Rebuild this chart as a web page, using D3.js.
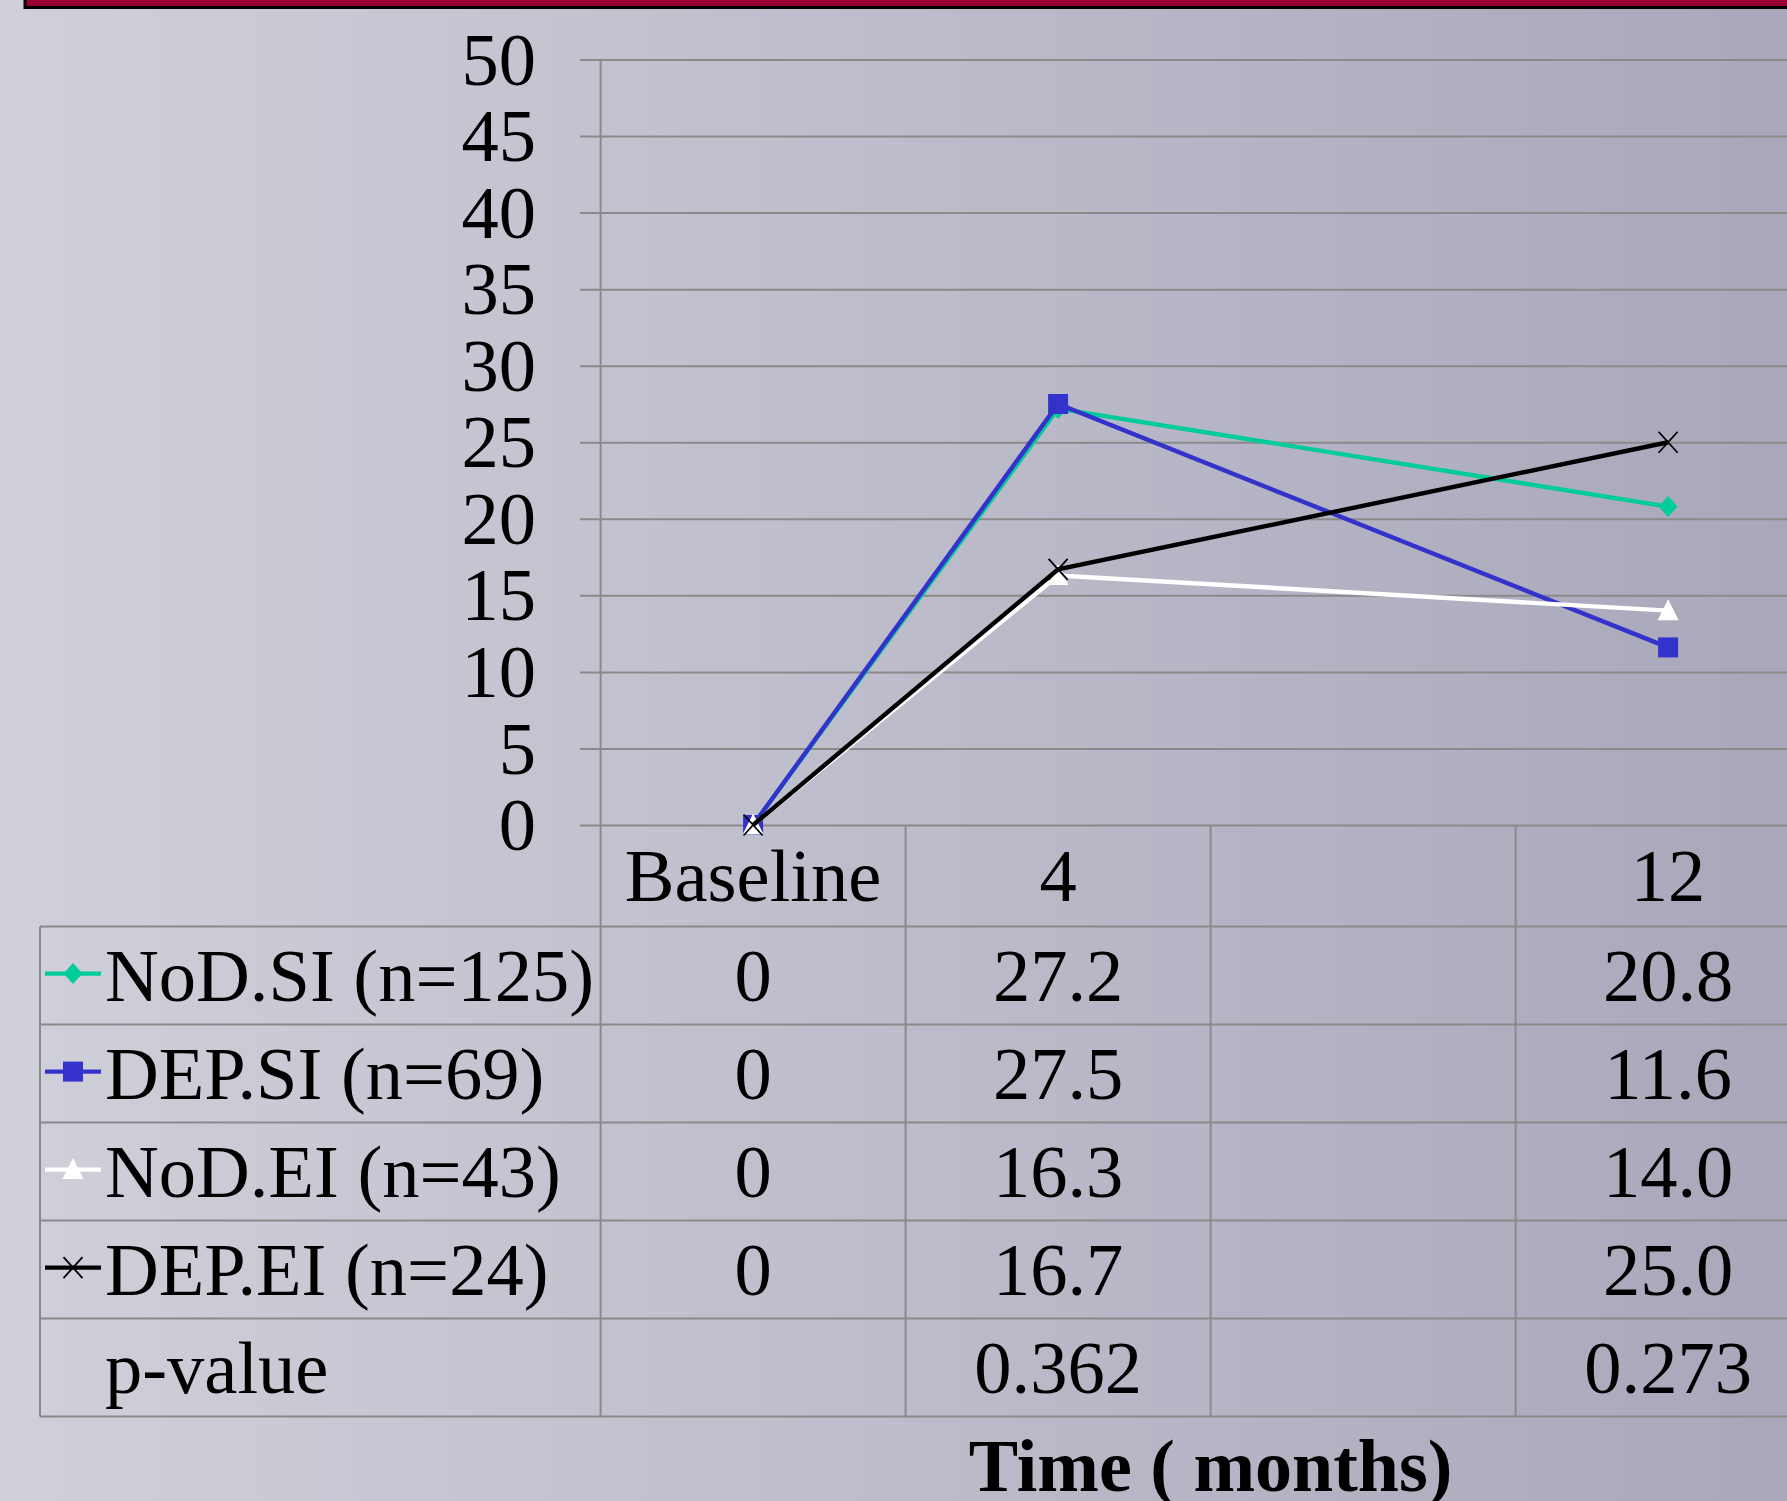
<!DOCTYPE html>
<html>
<head>
<meta charset="utf-8">
<script src="https://cdn.jsdelivr.net/npm/d3@7"></script>
<style>
  html, body { margin: 0; padding: 0; overflow: hidden; }
  svg { display: block; font-family: "Liberation Serif", "Times New Roman", serif; }
</style>
</head>
<body>
<svg id="chart" width="1787" height="1501"></svg>
<script>
// Time points (the third column has no measurement)
const categories = ["Baseline", "4", "", "12"];
// Series values, percent
const nodSI = [0, 27.2, null, 20.8];
const depSI = [0, 27.5, null, 11.6];
const nodEI = [0, 16.3, null, 14.0];
const depEI = [0, 16.7, null, 25.0];
const seriesNames = ["NoD.SI (n=125)", "DEP.SI (n=69)", "NoD.EI (n=43)", "DEP.EI (n=24)"];
const seriesColors = ["#00cc99", "#3333cc", "#ffffff", "#000000"];
const seriesMarkers = ["diamond", "square", "triangle", "cross"];
const pValues = ["", "0.362", "", "0.273"];
const yTicks = [0, 5, 10, 15, 20, 25, 30, 35, 40, 45, 50];

const series = [nodSI, depSI, nodEI, depEI].map((vals, i) => ({
  name: seriesNames[i], color: seriesColors[i], marker: seriesMarkers[i], values: vals
}));

const W = 1787, H = 1501;
const FONT = 74.5;
const svg = d3.select("#chart");

// Background gradient
const defs = svg.append("defs");
const grad = defs.append("linearGradient").attr("id", "bg").attr("x1", "0").attr("y1", "0").attr("x2", "1").attr("y2", "0");
grad.append("stop").attr("offset", "0").attr("stop-color", "#d0d0da");
grad.append("stop").attr("offset", "1").attr("stop-color", "#a9a8bb");
svg.append("rect").attr("width", W).attr("height", H).attr("fill", "url(#bg)");

// Maroon header strip
svg.append("rect").attr("x", 25).attr("y", -20).attr("width", W).attr("height", 27.5)
  .attr("fill", "#990033").attr("stroke", "#000").attr("stroke-width", 3);

// Scales
const x = d3.scaleBand().domain(categories).range([600.6, 1820.6]).paddingInner(0).paddingOuter(0);
const y = d3.scaleLinear().domain([0, 50]).range([825, 59.5]);
const cx = c => x(c) + x.bandwidth() / 2;

const gridColor = "#8a8a8a";

// Horizontal gridlines with tick stubs left of the axis
const grid = svg.append("g").attr("transform", "translate(580,0)")
  .call(d3.axisRight(y).tickValues(yTicks).tickSize(W - 580).tickFormat(""));
grid.select(".domain").remove();
grid.selectAll(".tick line").attr("stroke", gridColor).attr("stroke-width", 2);

// Y tick labels
const yLab = svg.append("g").attr("transform", "translate(536,0)")
  .call(d3.axisLeft(y).tickValues(yTicks).tickSize(0).tickPadding(0));
yLab.select(".domain").remove();
yLab.selectAll("text").attr("font-size", FONT).attr("font-family", "Liberation Serif")
  .attr("fill", "#000").attr("dy", "0.33em");

// Data table geometry
const rowTop = 926.6, rowH = 98;
const nRows = series.length + 1;
const tableBottom = rowTop + nRows * rowH;

// Vertical axis line and column separators
categories.forEach(c => {
  svg.append("line").attr("x1", x(c)).attr("x2", x(c))
    .attr("y1", x(c) === x(categories[0]) ? y(50) : y(0)).attr("y2", tableBottom)
    .attr("stroke", gridColor).attr("stroke-width", 2);
});
// Left border of the legend column
svg.append("line").attr("x1", 40).attr("x2", 40).attr("y1", rowTop).attr("y2", tableBottom)
  .attr("stroke", gridColor).attr("stroke-width", 2);
// Row separators
d3.range(nRows + 1).forEach(i => {
  svg.append("line").attr("x1", 40).attr("x2", W)
    .attr("y1", rowTop + i * rowH).attr("y2", rowTop + i * rowH)
    .attr("stroke", gridColor).attr("stroke-width", 2);
});

// Category labels
svg.append("g").selectAll("text").data(categories).join("text")
  .attr("x", d => cx(d)).attr("y", (y(0) + rowTop) / 2 + 25)
  .attr("text-anchor", "middle").attr("font-size", FONT).text(d => d);

// Marker shapes
function markerPath(type) {
  switch (type) {
    case "diamond": return "M0,-10.5L9.5,0L0,10.5L-9.5,0Z";
    case "square": return "M-10,-10H10V10H-10Z";
    case "triangle": return "M0,-11.5L10.5,9.5H-10.5Z";
    default: return "M-9.5,-10.5L9.5,10.5M-9.5,10.5L9.5,-10.5";
  }
}
function drawMarker(g, type, color, px, py) {
  const p = g.append("path").attr("d", markerPath(type)).attr("transform", `translate(${px},${py})`);
  if (type === "cross") p.attr("fill", "none").attr("stroke", color).attr("stroke-width", 1.8);
  else p.attr("fill", color);
}

// Series lines, joining the measured points
const line = d3.line().x(d => cx(d.c)).y(d => y(d.v));
const plot = svg.append("g");
series.forEach(s => {
  const pts = categories.map((c, i) => ({ c, v: s.values[i] })).filter(d => d.v != null);
  const g = plot.append("g");
  g.append("path").datum(pts).attr("d", line).attr("fill", "none")
    .attr("stroke", s.color).attr("stroke-width", 4.4).attr("stroke-linejoin", "miter");
  pts.forEach(d => drawMarker(g, s.marker, s.color, cx(d.c), y(d.v)));
});

// Table rows: legend key + values
const fmt = v => v == null ? "" : (v === 0 ? "0" : v.toFixed(1));
series.forEach((s, i) => {
  const mid = rowTop + i * rowH + rowH / 2;
  const g = svg.append("g");
  g.append("line").attr("x1", 45).attr("x2", 101).attr("y1", mid - 2).attr("y2", mid - 2)
    .attr("stroke", s.color).attr("stroke-width", 4.4);
  drawMarker(g, s.marker, s.color, 73, mid - 2);
  g.append("text").attr("x", 105).attr("y", mid + 25).attr("font-size", FONT).text(s.name);
  g.selectAll("text.v").data(categories).join("text").attr("class", "v")
    .attr("x", c => cx(c)).attr("y", mid + 25).attr("text-anchor", "middle")
    .attr("font-size", FONT).text((c, j) => fmt(s.values[j]));
});
// p-value row
{
  const mid = rowTop + series.length * rowH + rowH / 2;
  svg.append("text").attr("x", 105).attr("y", mid + 25).attr("font-size", FONT).text("p-value");
  svg.append("g").selectAll("text").data(categories).join("text")
    .attr("x", c => cx(c)).attr("y", mid + 25).attr("text-anchor", "middle")
    .attr("font-size", FONT).text((c, j) => pValues[j]);
}

// X axis title
svg.append("text").attr("x", 1210.6).attr("y", 1491).attr("text-anchor", "middle")
  .attr("font-size", 74).attr("font-weight", "bold").text("Time ( months)");
</script>
</body>
</html>
